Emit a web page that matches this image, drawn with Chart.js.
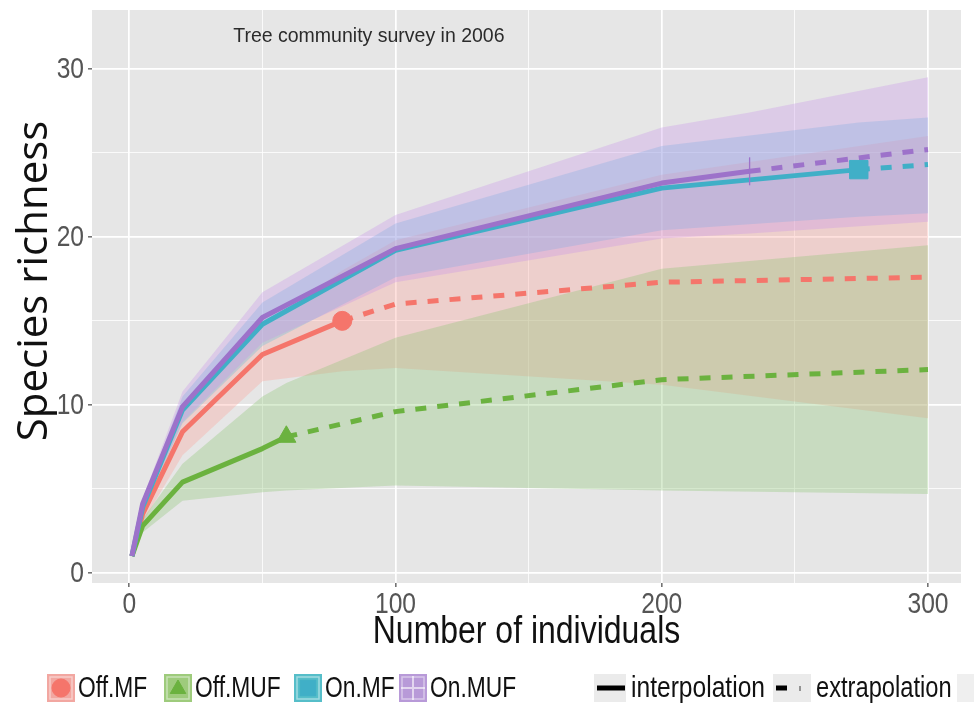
<!DOCTYPE html>
<html>
<head>
<meta charset="utf-8">
<script src="https://cdn.jsdelivr.net/npm/chart.js@4/dist/chart.umd.min.js"></script>
<style>
html,body{margin:0;padding:0;background:#fff;}
#wrap{width:974px;height:705px;position:relative;}
</style>
</head>
<body>
<div id="wrap"><canvas id="c" width="974" height="705"></canvas></div>
<script>
// ---------- data ----------
const seriesNames = ['Off.MF', 'Off.MUF', 'On.MF', 'On.MUF'];
const methodNames = ['interpolation', 'extrapolation'];
const chartTitle = 'Tree community survey in 2006';
const xTitle = 'Number of individuals';
const yTitle = 'Species richness';
const xLabelTicks = [0, 100, 200, 300];
const yLabelTicks = [0, 10, 20, 30];

// Off.MF (observed sample size 80)
const offMF_x     = [1, 5, 20, 50, 80, 100, 200, 300];
const offMF_mean  = [1, 3.5, 8.4, 13.0, 15.0, 16.0, 17.3, 17.6];
const offMF_lower = [1, 3.0, 7.0, 11.4, 12.0, 12.2, 11.2, 9.2];
const offMF_upper = [1, 4.0, 9.8, 14.6, 18.0, 19.8, 23.7, 26.0];
const offMF_obs = 4;

// Off.MUF (observed sample size 59)
const offMUF_x     = [1, 5, 20, 50, 59, 100, 200, 300];
const offMUF_mean  = [1, 2.8, 5.4, 7.4, 8.1, 9.6, 11.5, 12.1];
const offMUF_lower = [1, 2.4, 4.3, 4.8, 4.9, 5.2, 4.9, 4.7];
const offMUF_upper = [1, 3.2, 6.5, 10.5, 11.3, 14.0, 18.1, 19.5];
const offMUF_obs = 4;

// On.MF (observed sample size 274)
const onMF_x     = [1, 5, 20, 50, 100, 200, 274, 300];
const onMF_mean  = [1, 3.9, 9.7, 14.8, 19.2, 22.9, 24.0, 24.3];
const onMF_lower = [1, 3.6, 8.9, 13.5, 17.6, 20.4, 21.2, 21.4];
const onMF_upper = [1, 4.2, 10.5, 16.1, 20.8, 25.4, 26.8, 27.1];
const onMF_obs = 6;

// On.MUF (observed sample size 233)
const onMUF_x     = [1, 5, 20, 50, 100, 200, 233, 300];
const onMUF_mean  = [1, 4.1, 9.9, 15.2, 19.3, 23.2, 23.9, 25.2];
const onMUF_lower = [1, 3.8, 9.0, 13.7, 17.3, 19.9, 20.2, 20.9];
const onMUF_upper = [1, 4.4, 10.8, 16.7, 21.3, 26.5, 27.4, 29.5];
const onMUF_obs = 6;

// ---------- styles ----------
const lineColors = ['#F5756B', '#6BB23F', '#40AFC7', '#9D72CA'];
const bandColors = ['rgba(253,160,150,0.32)', 'rgba(138,196,112,0.32)', 'rgba(100,186,222,0.32)', 'rgba(200,145,232,0.32)'];
const keyColors  = ['#F2A7A1', '#9ECB7C', '#56BEC9', '#B89AD8'];
const markerStyles = [
  {pointStyle: 'circle', radius: 9.5, rotation: 0, borderWidth: 1},
  {pointStyle: 'triangle', radius: 11, rotation: 0, borderWidth: 1},
  {pointStyle: 'rect', radius: 13, rotation: 0, borderWidth: 1},
  {pointStyle: 'line', radius: 14, rotation: 90, borderWidth: 1.3}
];
const sansFamily = "'Liberation Sans', Arial, sans-serif";
const narrowScale = 0.82;   // emulate a narrow sans
const legendScale = 0.76;

const series = [
  {x: offMF_x, mean: offMF_mean, lower: offMF_lower, upper: offMF_upper, obs: offMF_obs},
  {x: offMUF_x, mean: offMUF_mean, lower: offMUF_lower, upper: offMUF_upper, obs: offMUF_obs},
  {x: onMF_x, mean: onMF_mean, lower: onMF_lower, upper: onMF_upper, obs: onMF_obs},
  {x: onMUF_x, mean: onMUF_mean, lower: onMUF_lower, upper: onMUF_upper, obs: onMUF_obs}
];

const pts = (xs, ys) => xs.map((v, i) => ({x: v, y: ys[i]}));

const datasets = [];
series.forEach((s, i) => {
  datasets.push({
    label: seriesNames[i] + ' upper', data: pts(s.x, s.upper),
    borderColor: 'transparent', borderWidth: 0, pointRadius: 0, fill: false, order: 200 - i
  });
  datasets.push({
    label: seriesNames[i] + ' lower', data: pts(s.x, s.lower),
    borderColor: 'transparent', borderWidth: 0, pointRadius: 0,
    fill: '-1', backgroundColor: bandColors[i], order: 200 - i
  });
});
series.forEach((s, i) => {
  const n = s.obs + 1;
  datasets.push({
    label: seriesNames[i] + ' ' + methodNames[0],
    data: pts(s.x.slice(0, n), s.mean.slice(0, n)),
    borderColor: lineColors[i], borderWidth: 5, pointRadius: 0, fill: false,
    borderJoinStyle: 'round', order: 50 - i
  });
  datasets.push({
    label: seriesNames[i] + ' ' + methodNames[1],
    data: pts(s.x.slice(s.obs), s.mean.slice(s.obs)),
    borderColor: lineColors[i], borderWidth: 5, borderDash: [11, 11], borderCapStyle: 'butt',
    pointRadius: 0, fill: false, order: 50 - i
  });
});
series.forEach((s, i) => {
  const m = markerStyles[i];
  datasets.push({
    label: seriesNames[i] + ' observed',
    data: [{x: s.x[s.obs], y: s.mean[s.obs]}],
    showLine: false, fill: false,
    pointStyle: m.pointStyle, pointRadius: m.radius, pointRotation: m.rotation,
    pointBackgroundColor: lineColors[i], pointBorderColor: lineColors[i], pointBorderWidth: m.borderWidth,
    order: 10 - i
  });
});

function narrowText(ctx, text, x, y, size, align, color, sx) {
  ctx.save();
  ctx.font = size + 'px ' + sansFamily;
  ctx.fillStyle = color;
  ctx.textAlign = align;
  ctx.textBaseline = 'middle';
  ctx.translate(x, y);
  ctx.scale(sx, 1);
  ctx.fillText(text, 0, 0);
  ctx.restore();
}
function narrowWidth(ctx, text, size, sx) {
  ctx.save();
  ctx.font = size + 'px ' + sansFamily;
  const w = ctx.measureText(text).width * sx;
  ctx.restore();
  return w;
}

const panelPlugin = {
  id: 'panel',
  beforeDraw(chart) {
    const {ctx, chartArea: a} = chart;
    ctx.save();
    ctx.fillStyle = '#fff';
    ctx.fillRect(0, 0, chart.width, chart.height);
    ctx.fillStyle = '#E6E6E6';
    ctx.fillRect(a.left, a.top, a.right - a.left, a.bottom - a.top);
    ctx.restore();
  },
  afterDraw(chart) {
    const {ctx, chartArea: a, scales} = chart;
    ctx.save();
    // tick labels
    xLabelTicks.forEach(v => narrowText(ctx, String(v), scales.x.getPixelForValue(v), a.bottom + 22, 30, 'center', '#555', narrowScale));
    yLabelTicks.forEach(v => narrowText(ctx, String(v), a.left - 8, scales.y.getPixelForValue(v) + 1, 30, 'right', '#555', narrowScale));

    // annotation inside panel
    ctx.fillStyle = '#2b2b2b';
    ctx.font = "19.5px " + sansFamily;
    ctx.textAlign = 'center';
    ctx.textBaseline = 'middle';
    ctx.fillText(chartTitle, scales.x.getPixelForValue(90), scales.y.getPixelForValue(31.9));

    // x title
    narrowText(ctx, xTitle, (a.left + a.right) / 2, 632, 39, 'center', '#111', narrowScale);

    // y title
    ctx.save();
    ctx.translate(35, 281);
    ctx.rotate(-Math.PI / 2);
    ctx.font = "42px 'Open Sans', 'Noto Sans', sans-serif";
    ctx.fillStyle = '#111';
    ctx.textAlign = 'center';
    ctx.textBaseline = 'middle';
    ctx.fillText(yTitle, 0, 0);
    ctx.restore();

    // legend
    const cy = 688, ks = 28, fs = 30;
    const boxX = [47, 164, 294, 399];
    seriesNames.forEach((name, i) => {
      const bx = boxX[i], by = cy - ks / 2;
      ctx.fillStyle = '#F2F2F2';
      ctx.fillRect(bx, by, ks, ks);
      ctx.fillStyle = keyColors[i];
      ctx.fillRect(bx, by, ks, ks);
      ctx.strokeStyle = 'rgba(255,255,255,0.45)';
      ctx.lineWidth = 1.5;
      ctx.strokeRect(bx + 3, by + 3, ks - 6, ks - 6);
      ctx.fillStyle = lineColors[i];
      ctx.strokeStyle = lineColors[i];
      const m = markerStyles[i];
      if (m.pointStyle === 'line') {
        ctx.strokeStyle = 'rgba(255,255,255,0.6)';
        ctx.lineWidth = 2;
        ctx.beginPath();
        ctx.moveTo(bx + ks / 2, by + 2); ctx.lineTo(bx + ks / 2, by + ks - 2);
        ctx.moveTo(bx + 2, cy); ctx.lineTo(bx + ks - 2, cy);
        ctx.stroke();
      } else {
        ctx.lineWidth = 1;
        Chart.helpers.drawPoint(ctx, {pointStyle: m.pointStyle, radius: m.pointStyle === 'rect' ? 11 : 9, rotation: 0, borderWidth: 1}, bx + ks / 2, cy + (m.pointStyle === 'triangle' ? 1 : 0));
      }
      narrowText(ctx, name, bx + ks + 3, cy + 1, fs, 'left', '#111', legendScale);
    });
    // interpolation key
    let kx = 594;
    ctx.fillStyle = '#EBEBEB';
    ctx.fillRect(kx, cy - ks / 2, 32, ks);
    ctx.strokeStyle = '#000';
    ctx.lineWidth = 5;
    ctx.setLineDash([]);
    ctx.beginPath(); ctx.moveTo(kx + 3, cy); ctx.lineTo(kx + 31, cy); ctx.stroke();
    narrowText(ctx, methodNames[0], kx + 37, cy + 1, fs, 'left', '#111', narrowScale);
    // extrapolation key
    kx = 773;
    ctx.fillStyle = '#EBEBEB';
    ctx.fillRect(kx, cy - ks / 2, 38, ks);
    ctx.strokeStyle = '#000';
    ctx.lineWidth = 5;
    ctx.beginPath(); ctx.moveTo(kx + 3, cy); ctx.lineTo(kx + 14, cy); ctx.stroke();
    ctx.lineWidth = 1.5;
    ctx.strokeStyle = '#777';
    ctx.beginPath(); ctx.moveTo(kx + 27, cy - 2); ctx.lineTo(kx + 27, cy + 3); ctx.stroke();
    narrowText(ctx, methodNames[1], kx + 43, cy + 1, fs, 'left', '#111', 0.79);
    // blank key
    ctx.fillStyle = '#EFEFEF';
    ctx.fillRect(957, cy - ks / 2, 28, ks);
    ctx.restore();
  }
};

const isMajor = (v, step) => Math.abs(v % step) < 1e-9;

new Chart(document.getElementById('c'), {
  type: 'line',
  data: {datasets},
  options: {
    responsive: false,
    animation: false,
    devicePixelRatio: 1,
    events: [],
    layout: {autoPadding: false, padding: {left: 0, right: 13, top: 10, bottom: 0}},
    plugins: {
      legend: {display: false},
      tooltip: {enabled: false},
      filler: {drawTime: 'beforeDatasetsDraw'}
    },
    elements: {line: {tension: 0}},
    scales: {
      x: {
        type: 'linear', min: -14, max: 312.4,
        ticks: {stepSize: 50, includeBounds: false, autoSkip: false, display: false},
        grid: {
          color: '#FFFFFF',
          lineWidth: c => (c.tick && isMajor(c.tick.value, 100)) ? 1.7 : 0.8,
          tickColor: c => (c.tick && isMajor(c.tick.value, 100)) ? '#444' : 'rgba(0,0,0,0)',
          tickLength: 4, tickWidth: 1.2
        },
        border: {display: false},
        afterFit: s => { s.height = 122; }
      },
      y: {
        type: 'linear', min: -0.6, max: 33.5,
        ticks: {stepSize: 5, includeBounds: false, autoSkip: false, display: false},
        grid: {
          color: '#FFFFFF',
          lineWidth: c => (c.tick && isMajor(c.tick.value, 10)) ? 1.7 : 0.8,
          tickColor: c => (c.tick && isMajor(c.tick.value, 10)) ? '#444' : 'rgba(0,0,0,0)',
          tickLength: 4, tickWidth: 1.2
        },
        border: {display: false},
        afterFit: s => { s.width = 92; }
      }
    }
  },
  plugins: [panelPlugin]
});
</script>
</body>
</html>
